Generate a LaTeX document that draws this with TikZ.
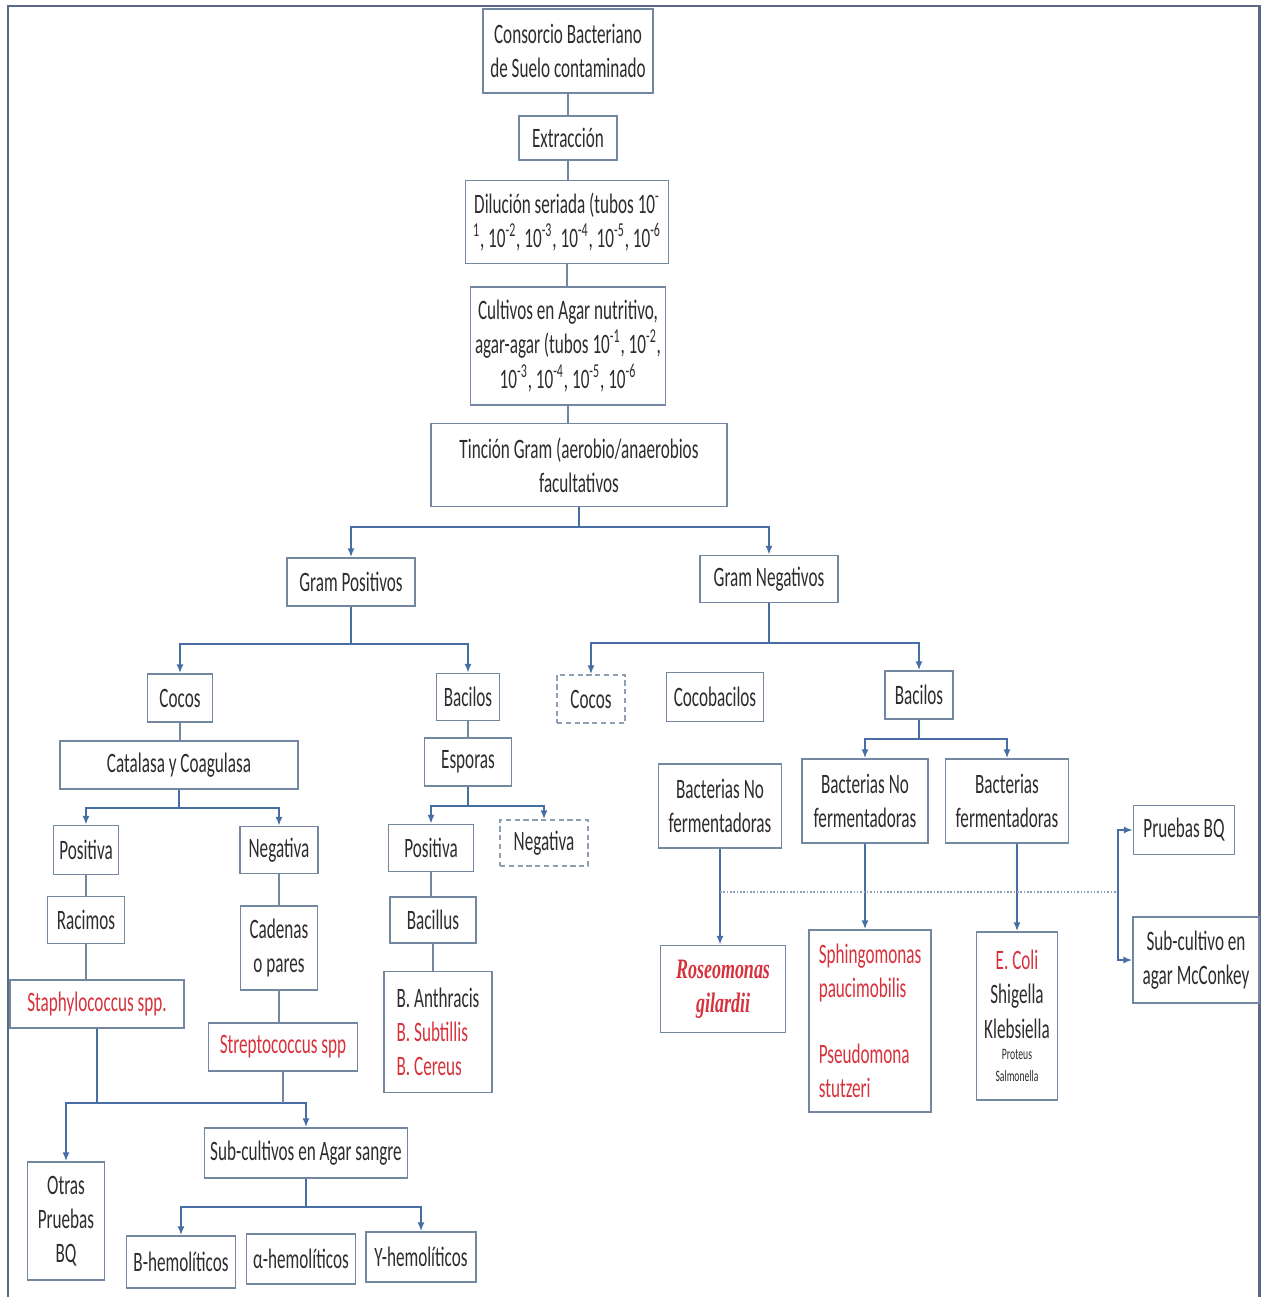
\documentclass[tikz,border=0pt]{standalone}
\usepackage{fontspec}
\setmainfont{Carlito}[FakeStretch=0.61]
\newfontfamily\rosefont{Liberation Serif}[FakeStretch=0.64]
\usetikzlibrary{arrows.meta,positioning}
\definecolor{boxline}{RGB}{115,135,160}
\definecolor{linkcol}{RGB}{70,110,165}
\definecolor{redtxt}{RGB}{215,50,60}
\definecolor{txt}{RGB}{45,45,45}
\definecolor{framecol}{RGB}{90,105,135}
\tikzset{
 box/.style={draw=boxline,line width=1pt,fill=white,align=center,inner sep=1pt,text=txt,font=\fontsize{16}{19.5}\selectfont},
 dbox/.style={box,densely dashed,draw=boxline!80},
 redbox/.style={box,text=redtxt},
 bw/.style={minimum width=#1*0.02cm},
 bh/.style={minimum height=#1*0.02cm},
 plain/.style={draw=boxline,line width=0.8pt},
 link/.style={draw=linkcol,line width=0.9pt,-{Latex[length=5pt,width=4pt]}},
 dotline/.style={draw=boxline!80,line width=0.9pt,densely dotted}
}
\begin{document}
\begin{tikzpicture}[x=0.02cm,y=-0.02cm]
 \useasboundingbox (0,0) rectangle (1262,1297);
 %frame
 \draw[framecol,line width=1.7pt] (8,1297) -- (8,6) -- (1259,6) -- (1259,1297);

 % main column
 \node (cons) at (568,51) [box,bw=170,bh=84] {Consorcio Bacteriano\\de Suelo contaminado};
 \node (extr) at (568,138) [box,bw=98,bh=44] {Extracción};
 \node (dil) at (567,222) [box,bw=203,bh=83] {Dilución seriada (tubos 10\textsuperscript{-}\\\textsuperscript{1}, 10\textsuperscript{-2}, 10\textsuperscript{-3}, 10\textsuperscript{-4}, 10\textsuperscript{-5}, 10\textsuperscript{-6}};
 \node (cult) at (568,346) [box,bw=195,bh=118] {Cultivos en Agar nutritivo,\\agar-agar (tubos 10\textsuperscript{-1}, 10\textsuperscript{-2},\\10\textsuperscript{-3}, 10\textsuperscript{-4}, 10\textsuperscript{-5}, 10\textsuperscript{-6}};
 \node (tinc) at (579,465) [box,bw=296,bh=83] {Tinción Gram (aerobio/anaerobios\\facultativos};

 % gram positivos
 \node (gpos) at (351,582) [box,bw=128,bh=48] {Gram Positivos};
 \node (cocosl) at (180,698) [box,bw=65,bh=48] {Cocos};
 \node (bacl) at (468,697) [box,bw=63,bh=47] {Bacilos};
 \node (catal) at (179,765) [box,bw=238,bh=48] {Catalasa y Coagulasa};
 \node (espo) at (468,762) [box,bw=87,bh=48] {Esporas};
 \node (posl) at (86,850) [box,bw=65,bh=49] {Positiva};
 \node (negl) at (279,850) [box,bw=78,bh=47] {Negativa};
 \node (racim) at (86,920) [box,bw=77,bh=47] {Racimos};
 \node (caden) at (279,948) [box,bw=77,bh=84] {Cadenas\\o pares};
 \node (staph) at (97,1004) [redbox,bw=174,bh=48] {Staphylococcus spp.};
 \node (strep) at (283,1047) [redbox,bw=149,bh=48] {Streptococcus spp};
 \node (otras) at (66,1221) [box,bw=77,bh=118] {Otras\\Pruebas\\BQ};
 \node (subsang) at (306,1153) [box,bw=203,bh=50] {Sub-cultivos en Agar sangre};
 \node (bhem) at (181,1262) [box,bw=109,bh=52] {B-hemolíticos};
 \node (ahem) at (301,1259) [box,bw=109,bh=50] {α-hemolíticos};
 \node (yhem) at (421,1257) [box,bw=110,bh=50] {Y-hemolíticos};
 \node (posm) at (431,848) [box,bw=85,bh=47] {Positiva};
 \node (negm) at (544,843) [dbox,bw=88,bh=46] {Negativa};
 \node (bacillus) at (433,920) [box,bw=86,bh=46] {Bacillus};
 \node (banth) at (438,1032) [box,align=left,bw=108,bh=121] {B. Anthracis\\{\color{redtxt}B. Subtillis}\\{\color{redtxt}B. Cereus}};

 % gram negativos
 \node (gneg) at (769,579) [box,bw=138,bh=47] {Gram Negativos};
 \node (cocosr) at (591,699) [dbox,bw=68,bh=48] {Cocos};
 \node (cocob) at (715,697) [box,bw=97,bh=49] {Cocobacilos};
 \node (bacr) at (919,695) [box,bw=68,bh=48] {Bacilos};
 \node (bnf1) at (720,806) [box,bw=123,bh=84] {Bacterias No\\fermentadoras};
 \node (bnf2) at (865,801) [box,bw=126,bh=84] {Bacterias No\\fermentadoras};
 \node (bf) at (1007,801) [box,bw=123,bh=84] {Bacterias\\fermentadoras};
 \node (pbq) at (1184,830) [box,bw=101,bh=49] {Pruebas BQ};
 \node (mcc) at (1196,960) [box,bw=126,bh=86] {Sub-cultivo en\\agar McConkey};
 \node (rose) at (723,989) [redbox,bw=125,bh=87,font=\rosefont\bfseries\itshape\fontsize{16}{19.5}\selectfont] {Roseomonas\\gilardii};
 \node (sphi) at (870,1021) [redbox,align=left,bw=122,bh=182] {Sphingomonas\\paucimobilis\\[18pt]Pseudomona\\stutzeri};
 \node (ecoli) at (1017,1016) [box,bw=81,bh=168] {{\color{redtxt}E. Coli}\\Shigella\\Klebsiella\\[-7pt]{\fontsize{9}{11}\selectfont Proteus}\\[-7pt]{\fontsize{9}{11}\selectfont Salmonella}};

 % buses
 \coordinate (b0) at (0,527);
 \coordinate (b1) at (0,644);
 \coordinate (b2) at (0,643);
 \coordinate (b3) at (0,808);
 \coordinate (b4) at (0,806);
 \coordinate (b5) at (0,739);
 \coordinate (b6) at (0,1103);
 \coordinate (b7) at (0,1207);
 \coordinate (fork) at (1118,892);

 % connectors
 \foreach \src/\dst in {cons/extr,extr/dil,dil/cult,cult/tinc,cocosl/catal,bacl/espo,posl/racim,negl/caden,racim/staph,caden/strep,posm/bacillus,bacillus/banth} {
  \draw[plain] (\src.south) -- (\src.south |- \dst.north);
 };
 \foreach \src/\bus/\dst in {tinc/b0/gpos,tinc/b0/gneg,gpos/b1/cocosl,gpos/b1/bacl,gneg/b2/cocosr,gneg/b2/bacr,catal/b3/posl,catal/b3/negl,espo/b4/posm,espo/b4/negm,bacr/b5/bnf2,bacr/b5/bf,staph/b6/otras,staph/b6/subsang,subsang/b7/bhem,subsang/b7/yhem} {
  \draw[link] (\src.south) -- (\src.south |- \bus) -| (\dst.north);
 };
 \draw[plain] (strep.south) -- (strep.south |- b6);
 \draw[link] (bnf1.south) -- (bnf1.south |- rose.north);
 \draw[link] (bnf2.south) -- (bnf2.south |- sphi.north);
 \draw[link] (ecoli.north |- bf.south) -- (ecoli.north);
 \draw[dotline] (bnf1.south |- fork) -- (fork);
 \draw[link] (fork) |- (pbq.west);
 \draw[link] (fork) |- (mcc.west);
\end{tikzpicture}
\end{document}
